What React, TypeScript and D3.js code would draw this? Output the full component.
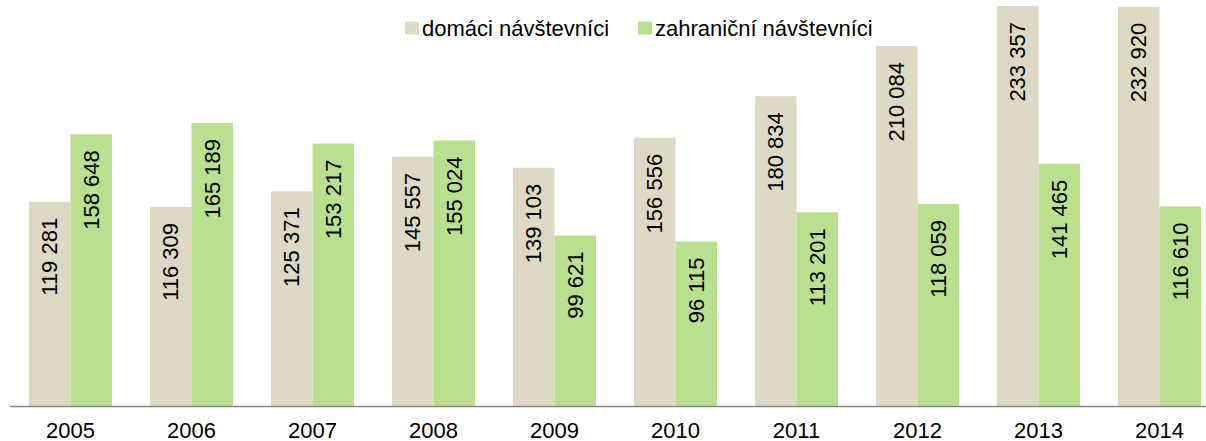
import React, { useEffect, useRef } from 'react';
import * as d3 from 'd3';

const years = ['2005', '2006', '2007', '2008', '2009', '2010', '2011', '2012', '2013', '2014'];
const domestic = [119281, 116309, 125371, 145557, 139103, 156556, 180834, 210084, 233357, 232920];
const foreign = [158648, 165189, 153217, 155024, 99621, 96115, 113201, 118059, 141465, 116610];
const seriesNames = ['domaci', 'zahranicni'];
const seriesLabels = ['domáci návštevníci', 'zahraniční návštevníci'];
const colors = ['#DDD9C4', '#B9E08E'];

const App: React.FC = () => {
  const svgRef = useRef<SVGSVGElement>(null);

  useEffect(() => {
    if (!svgRef.current) return;
    const svg = d3.select(svgRef.current);
    svg.selectAll('*').remove();

    const width = 1206;
    const height = 441;
    const baseline = 406.5;
    const font = '"Liberation Sans", Arial, sans-serif';
    const fontSize = '22px';

    // category scale: step 121px, bar pair 83px wide
    const x0 = d3.scaleBand<string>()
      .domain(years)
      .range([10, 1220])
      .paddingInner(38 / 121)
      .paddingOuter(19 / 121);

    const x1 = d3.scaleBand<string>()
      .domain(seriesNames)
      .range([0, x0.bandwidth()]);

    const y = d3.scaleLinear()
      .domain([0, 236900])
      .range([baseline, 0]);

    const fmt = d3.formatLocale({ thousands: ' ', grouping: [3], decimal: ',', currency: ['', ''] }).format(',d');

    const rows = years.map((yr, i) => ({ year: yr, values: [domestic[i], foreign[i]] }));

    const groups = svg.append('g')
      .selectAll('g')
      .data(rows)
      .enter()
      .append('g')
      .attr('transform', d => `translate(${x0(d.year)},0)`);

    groups.selectAll('rect')
      .data(d => d.values.map((v, k) => ({ key: seriesNames[k], value: v, k })))
      .enter()
      .append('rect')
      .attr('x', d => x1(d.key) as number)
      .attr('y', d => y(d.value))
      .attr('width', x1.bandwidth())
      .attr('height', d => baseline - y(d.value))
      .style('fill', d => colors[d.k]);

    // value labels, rotated, near top of each bar
    groups.selectAll('text')
      .data(d => d.values.map((v, k) => ({ key: seriesNames[k], value: v })))
      .enter()
      .append('text')
      .attr('transform', d => {
        const cx = (x1(d.key) as number) + x1.bandwidth() / 2;
        return `translate(${cx},${y(d.value) + 16}) rotate(-90)`;
      })
      .attr('text-anchor', 'end')
      .attr('dy', '0.35em')
      .style('font-family', font)
      .style('font-size', fontSize)
      .style('fill', '#000')
      .text(d => fmt(d.value));

    // baseline axis
    svg.append('line')
      .attr('x1', 10)
      .attr('x2', width)
      .attr('y1', baseline)
      .attr('y2', baseline)
      .style('stroke', '#868686')
      .style('stroke-width', 1.5);

    // year labels
    svg.append('g')
      .selectAll('text')
      .data(years)
      .enter()
      .append('text')
      .attr('x', d => (x0(d) as number) + x0.bandwidth() / 2)
      .attr('y', 438)
      .attr('text-anchor', 'middle')
      .style('font-family', font)
      .style('font-size', fontSize)
      .style('fill', '#000')
      .text(d => d);

    // legend
    const legendX = [405, 638];
    const legend = svg.append('g');
    seriesLabels.forEach((label, k) => {
      legend.append('rect')
        .attr('x', legendX[k])
        .attr('y', 21.5)
        .attr('width', 14)
        .attr('height', 13)
        .style('fill', colors[k]);
      legend.append('text')
        .attr('x', legendX[k] + 17)
        .attr('y', 36)
        .style('font-family', font)
        .style('font-size', fontSize)
        .style('fill', '#000')
        .text(label);
    });

    svg.attr('width', width).attr('height', height);
  }, []);

  return (
    <svg ref={svgRef} width={1206} height={441}
      style={{ position: 'absolute', left: 0, top: 0, background: '#fff' }}></svg>
  );
};

export default App;
